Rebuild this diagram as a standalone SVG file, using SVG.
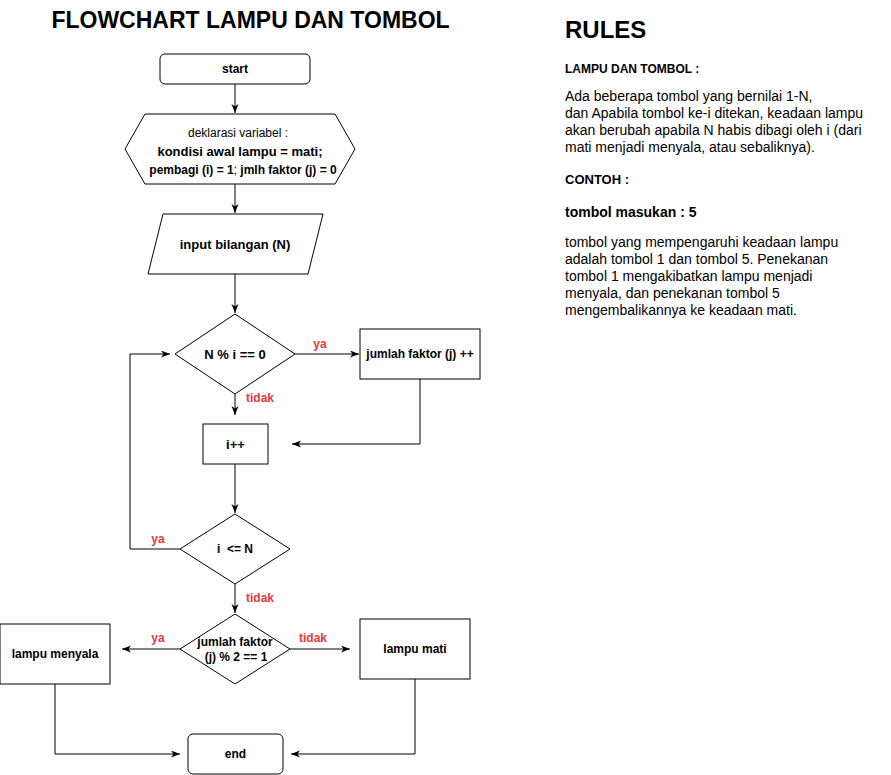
<svg xmlns="http://www.w3.org/2000/svg" width="891" height="775" viewBox="0 0 891 775">
<defs>
<style>
.s{fill:#fff;stroke:#000;stroke-width:1}
.t{font-family:"Liberation Sans",Arial,sans-serif;font-weight:bold;font-size:12px;text-anchor:middle;dominant-baseline:central;fill:#000}
.n{font-weight:normal}
.b13{font-size:13px}
.c{fill:none;stroke:#000;stroke-width:1}
.r{font-family:"Liberation Sans",Arial,sans-serif;font-weight:bold;font-size:12px;fill:#e8383d;text-anchor:middle;dominant-baseline:central}
.p{font-family:"Liberation Sans",Arial,sans-serif;font-size:14px;fill:#000}
</style>
<marker id="a" markerUnits="userSpaceOnUse" markerWidth="10" markerHeight="8" refX="9" refY="3.5" orient="auto">
<path d="M0,0 L9,3.5 L0,7 L2.5,3.5 z" fill="#000"/>
</marker>
</defs>
<rect width="891" height="775" fill="#fff"/>
<text x="250.5" y="28" style="font-family:'Liberation Sans',Arial,sans-serif;font-weight:bold;font-size:23px;text-anchor:middle">FLOWCHART LAMPU DAN TOMBOL</text>

<g id="connectors">
<path class="c" d="M235,84 V113" marker-end="url(#a)"/>
<path class="c" d="M235,184 V213" marker-end="url(#a)"/>
<path class="c" d="M235,274 V313" marker-end="url(#a)"/>
<path class="c" d="M295,354 H359" marker-end="url(#a)"/>
<path class="c" d="M420,379 V444 H292" marker-end="url(#a)"/>
<path class="c" d="M235,394 V415" marker-end="url(#a)"/>
<path class="c" d="M235,464 V513" marker-end="url(#a)"/>
<path class="c" d="M180,549 H130 V354 H170" marker-end="url(#a)"/>
<path class="c" d="M235,584 V613" marker-end="url(#a)"/>
<path class="c" d="M180,649 H122" marker-end="url(#a)"/>
<path class="c" d="M290,649 H350" marker-end="url(#a)"/>
<path class="c" d="M55,684 V754 H180" marker-end="url(#a)"/>
<path class="c" d="M415,679 V754 H291" marker-end="url(#a)"/>
<text class="r" x="320" y="344">ya</text>
<text class="r" x="260" y="398">tidak</text>
<text class="r" x="158" y="539">ya</text>
<text class="r" x="260" y="598">tidak</text>
<text class="r" x="158" y="638">ya</text>
<text class="r" x="313" y="638">tidak</text>
</g>

<g id="start">
<rect class="s" x="160" y="54" width="150" height="30" rx="5"/>
<text class="t" x="235" y="69">start</text>
</g>
<g id="deklarasi">
<polygon class="s" points="125,149 145,114 335,114 355,149 335,184 145,184"/>
<text class="t n" x="238" y="133">deklarasi variabel :</text>
<text class="t b13" x="240" y="151">kondisi awal lampu = mati;</text>
<text class="t" x="243" y="170">pembagi (i) = 1<tspan class="n">;</tspan> jmlh faktor (j) = 0</text>
</g>
<g id="input">
<polygon class="s" points="163,214 323,214 308,274 148,274"/>
<text class="t b13" x="235" y="244">input bilangan (N)</text>
</g>
<g id="cek-faktor">
<polygon class="s" points="235,314 295,354 235,394 175,354"/>
<text class="t b13" x="235" y="354">N % i == 0</text>
</g>
<g id="tambah-faktor">
<rect class="s" x="360" y="329" width="120" height="50"/>
<text class="t" x="420" y="354">jumlah faktor (j) ++</text>
</g>
<g id="inkremen">
<rect class="s" x="203" y="424" width="65" height="40"/>
<text class="t b13" x="235.5" y="444">i++</text>
</g>
<g id="cek-loop">
<polygon class="s" points="235,514 290,549 235,584 180,549"/>
<text class="t" x="235" y="549" xml:space="preserve">i  &lt;= N</text>
</g>
<g id="cek-ganjil">
<polygon class="s" points="235,614 290,649 235,684 180,649"/>
<text class="t" x="235" y="642">jumlah faktor</text>
<text class="t" x="236" y="657">(j) % 2 == 1</text>
</g>
<g id="lampu-menyala">
<rect class="s" x="0" y="624" width="110" height="60"/>
<text class="t" x="55" y="654">lampu menyala</text>
</g>
<g id="lampu-mati">
<rect class="s" x="360" y="619" width="110" height="60"/>
<text class="t" x="415" y="649">lampu mati</text>
</g>
<g id="end">
<rect class="s" x="188" y="734" width="95" height="40" rx="5"/>
<text class="t" x="235.5" y="754">end</text>
</g>

<g id="rules">
<text x="565" y="38" style="font-family:'Liberation Sans',Arial,sans-serif;font-weight:bold;font-size:24px">RULES</text>
<text x="565" y="73" style="font-family:'Liberation Sans',Arial,sans-serif;font-weight:bold;font-size:12px">LAMPU DAN TOMBOL :</text>
<text class="p"><tspan x="565" y="101">Ada beberapa tombol yang bernilai 1-N,</tspan><tspan x="565" y="118">dan Apabila tombol ke-i ditekan, keadaan lampu</tspan><tspan x="565" y="135">akan berubah apabila N habis dibagi oleh i (dari</tspan><tspan x="565" y="152">mati menjadi menyala, atau sebaliknya).</tspan></text>
<text x="565" y="184" style="font-family:'Liberation Sans',Arial,sans-serif;font-weight:bold;font-size:13px">CONTOH :</text>
<text x="565" y="217" style="font-family:'Liberation Sans',Arial,sans-serif;font-weight:bold;font-size:14px">tombol masukan : 5</text>
<text class="p"><tspan x="565" y="247">tombol yang mempengaruhi keadaan lampu</tspan><tspan x="565" y="264">adalah tombol 1 dan tombol 5. Penekanan</tspan><tspan x="565" y="281">tombol 1 mengakibatkan lampu menjadi</tspan><tspan x="565" y="298">menyala, dan penekanan tombol 5</tspan><tspan x="565" y="315">mengembalikannya ke keadaan mati.</tspan></text>
</g>
</svg>
